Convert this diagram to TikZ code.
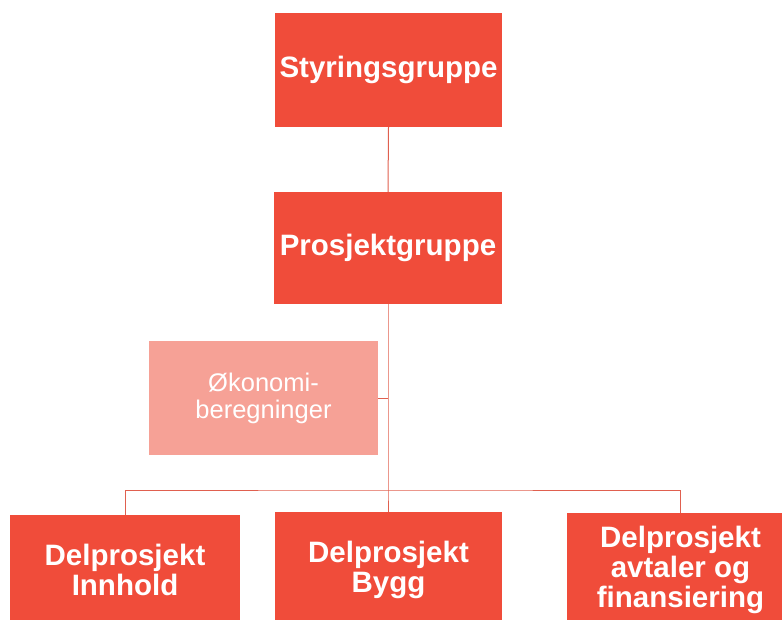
\documentclass[tikz,border=0pt]{standalone}
\usepackage{fontspec}
\setmainfont{Liberation Sans}
\definecolor{mainred}{HTML}{F04C3A}
\definecolor{lightred}{HTML}{F6A196}
\definecolor{linered}{HTML}{E0604F}
\tikzset{
  box/.style={fill=mainred, draw=none, text=white, align=center, inner sep=0pt,
    font=\fontsize{29.5}{30}\selectfont\bfseries},
  lightbox/.style={fill=lightred, draw=none, text=white, align=center, inner sep=0pt,
    font=\fontsize{25.5}{27}\selectfont},
  conn/.style={draw=linered, line width=1pt}
}
\begin{document}
\begin{tikzpicture}[x=1pt,y=-1pt]
\useasboundingbox (0,0) rectangle (782,619);
\node[box, minimum width=227pt, minimum height=114pt] (sty) at (388.5,70) {Styringsgruppe};
\node[box, minimum width=228pt, minimum height=112pt] (pro) at (388,248) {Prosjektgruppe};
\node[lightbox, minimum width=229pt, minimum height=114pt] (oko) at (263.5,398) {Økonomi-\\beregninger};
\node[box, minimum width=230pt, minimum height=110pt] (inn) at (125,570) {Delprosjekt\\Innhold};
\node[box, minimum width=227pt, minimum height=116pt] (byg) at (388.5,570) {Delprosjekt\\Bygg};
\node[box, minimum width=227pt, minimum height=114pt] (avt) at (680.5,570) {Delprosjekt\\avtaler og\\finansiering};
\coordinate (bar) at (388,490);
\draw[conn] (sty.south) -- (pro.north);
\draw[conn] (pro.south) -- (bar) -- (bar |- byg.north);
\draw[conn] (inn.north) |- (bar) -| (avt.north);
\draw[conn] (oko.east) -- (oko.east -| bar);
\end{tikzpicture}
\end{document}
